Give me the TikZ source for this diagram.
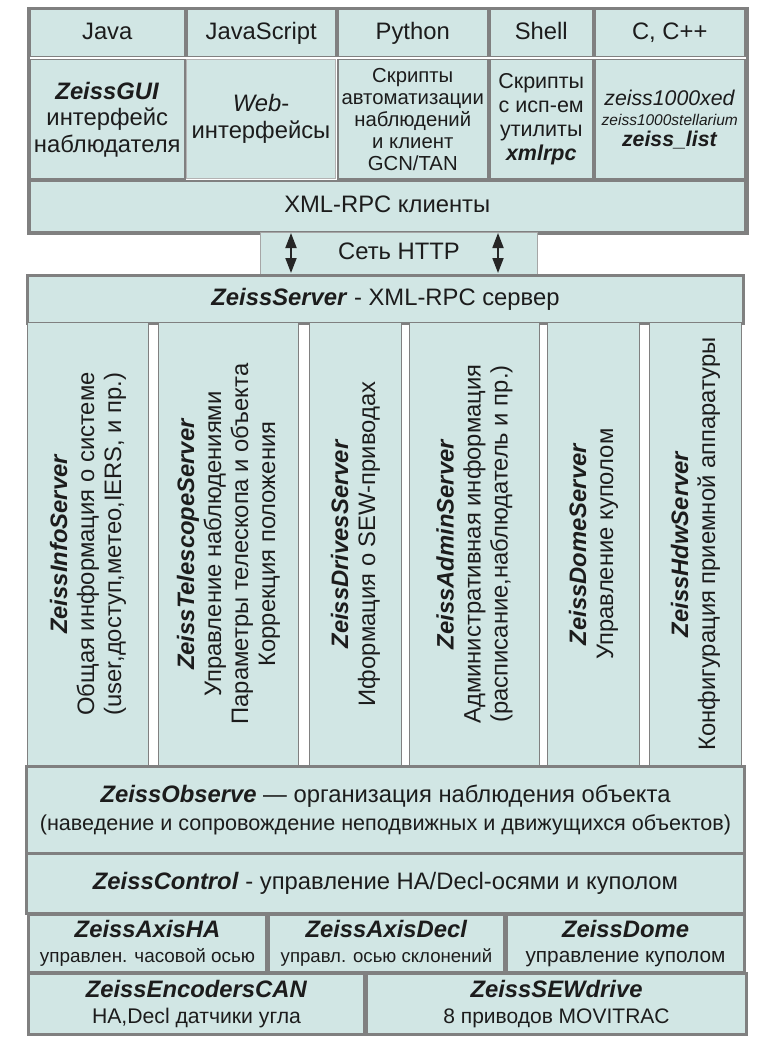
\documentclass[tikz,border=0pt]{standalone}
\usepackage{fontspec}
\setmainfont{Liberation Sans}
\usetikzlibrary{arrows.meta}
\definecolor{cellfill}{HTML}{D1E6E4}
\definecolor{cellline}{HTML}{808080}
\definecolor{txt}{HTML}{1C1C1C}
\newcommand{\zbi}[1]{\textbf{\textit{#1}}}
\begin{document}
\begin{tikzpicture}[x=1pt,y=-1pt,
  cell/.style={draw=cellline,fill=cellfill,line width=1.5pt,inner sep=0pt,anchor=north west,align=center,text=txt},
  thick cell/.style={cell,line width=3pt},
  frame/.style={draw=cellline,line width=3pt,inner sep=0pt,anchor=north west},
  big/.style={font=\fontsize{23.8}{26.5}\selectfont},
  oneline/.style={text height=17pt,text depth=5pt},
  vtext/.style={rotate=90,align=center,text=txt,font=\fontsize{23.8}{27}\selectfont},
  link/.style={draw=black!85,line width=1.8pt,{Triangle[length=15pt,width=11pt]}-{Triangle[length=15pt,width=11pt]}}
]
\useasboundingbox (0,0) rectangle (771,1046);
% ---- top block
\node[cell,big,oneline,minimum width=155,minimum height=47] (java) at (29,9) {Java};
\node[cell,big,oneline,minimum width=149,minimum height=47] (js) at (186,9) {JavaScript};
\node[cell,big,oneline,minimum width=150,minimum height=47] (py) at (337,9) {Python};
\node[cell,big,oneline,minimum width=103,minimum height=47] (sh) at (489,9) {Shell};
\node[cell,big,oneline,minimum width=150,minimum height=47] (cc) at (594,9) {C, C++};
\node[cell,big,minimum width=155,minimum height=119] (gui) at (29,59) {\zbi{ZeissGUI}\\интерфейс\\наблюдателя};
\node[cell,big,minimum width=149,minimum height=119,draw=cellline!60,line width=1pt] (web) at (186,59) {\textit{Web}-\\интерфейсы};
\node[cell,font=\fontsize{20.3}{22}\selectfont,minimum width=150,minimum height=119] (pys) at (337,59) {Скрипты\\автоматизации\\наблюдений\\и клиент\\GCN/TAN};
\node[cell,font=\fontsize{21.5}{24}\selectfont,minimum width=103,minimum height=119] (shs) at (489,59) {Скрипты\\с исп-ем\\утилиты\\\zbi{xmlrpc}};
\node[cell,font=\fontsize{21.3}{20.5}\selectfont,minimum width=150,minimum height=119] (ccs) at (594,59) {\textit{zeiss1000xed}\\{\fontsize{15.5}{20.5}\selectfont\textit{zeiss1000stellarium}}\\\zbi{zeiss\_list}};
\node[cell,big,oneline,minimum width=715,minimum height=51] (clients) at (29,180) {XML-RPC клиенты};
\node[frame,minimum width=719,minimum height=225] (topframe) at (27,7) {};
% ---- network
\node[cell,big,oneline,draw=cellline!70,line width=1pt,minimum width=277,minimum height=42] (http) at (260,232) {Сеть HTTP};
% ---- server
\node[thick cell,big,oneline,minimum width=716,minimum height=48] (server) at (26,274) {\zbi{ZeissServer} - XML-RPC сервер};
\coordinate (a1t) at (291,233); \coordinate (a1b) at (291,273);
\coordinate (a2t) at (498,233); \coordinate (a2b) at (498,273);
\draw[link] (a1t) -- (a1b);
\draw[link] (a2t) -- (a2b);
% ---- columns
\node[cell,line width=1pt,minimum width=121,minimum height=443] (c1) at (27,322) {};
\node[cell,line width=1pt,minimum width=140,minimum height=443] (c2) at (158,322) {};
\node[cell,line width=1pt,minimum width=92,minimum height=443] (c3) at (309,322) {};
\node[cell,line width=1pt,minimum width=130,minimum height=443] (c4) at (409,322) {};
\node[cell,line width=1pt,minimum width=92,minimum height=443] (c5) at (547,322) {};
\node[cell,line width=1pt,minimum width=92,minimum height=443] (c6) at (649,322) {};
\node[vtext] (c1t) at (c1.center) {\zbi{ZeissInfoServer}\\Общая информация о системе\\(user,доступ,метео,IERS, и пр.)};
\node[vtext] (c2t) at (c2.center) {\zbi{ZeissTelescopeServer}\\Управление наблюдениями\\Параметры телескопа и объекта\\Коррекция положения};
\node[vtext] (c3t) at (c3.center) {\zbi{ZeissDrivesServer}\\Иформация о SEW-приводах};
\node[vtext] (c4t) at (c4.center) {\zbi{ZeissAdminServer}\\Административная информация\\(расписание,наблюдатель и пр.)};
\node[vtext] (c5t) at (c5.center) {\zbi{ZeissDomeServer}\\Управление куполом};
\node[vtext] (c6t) at (c6.center) {\zbi{ZeissHdwServer}\\Конфигурация приемной аппаратуры};
% ---- lower block
\node[thick cell,font=\fontsize{23.8}{28}\selectfont,minimum width=718,minimum height=87] (observe) at (25,765) {\zbi{ZeissObserve} — организация наблюдения объекта\\{\fontsize{21.6}{28}\selectfont(наведение и сопровождение неподвижных и движущихся объектов)}};
\node[thick cell,big,oneline,minimum width=718,minimum height=60] (control) at (25,852) {\zbi{ZeissControl} - управление HA/Decl-осями и куполом};
\node[thick cell,font=\fontsize{23.8}{25}\selectfont,minimum width=238,minimum height=58] (ha) at (27,913) {\zbi{ZeissAxisHA}\\{\fontsize{18.9}{25}\selectfont управлен. часовой осью}};
\node[thick cell,font=\fontsize{23.8}{25}\selectfont,minimum width=236,minimum height=58] (decl) at (267,913) {\zbi{ZeissAxisDecl}\\{\fontsize{18.6}{25}\selectfont управл. осью склонений}};
\node[thick cell,font=\fontsize{23.8}{25}\selectfont,minimum width=238,minimum height=58] (dome) at (505,913) {\zbi{ZeissDome}\\{\fontsize{20.8}{25}\selectfont управление куполом}};
\node[thick cell,font=\fontsize{23.8}{26}\selectfont,minimum width=336,minimum height=61] (enc) at (27,972) {\zbi{ZeissEncodersCAN}\\{\fontsize{21.2}{26}\selectfont HA,Decl датчики угла}};
\node[thick cell,font=\fontsize{23.8}{26}\selectfont,minimum width=380,minimum height=61] (sew) at (365,972) {\zbi{ZeissSEWdrive}\\{\fontsize{21}{26}\selectfont 8 приводов MOVITRAC}};
\end{tikzpicture}
\end{document}
